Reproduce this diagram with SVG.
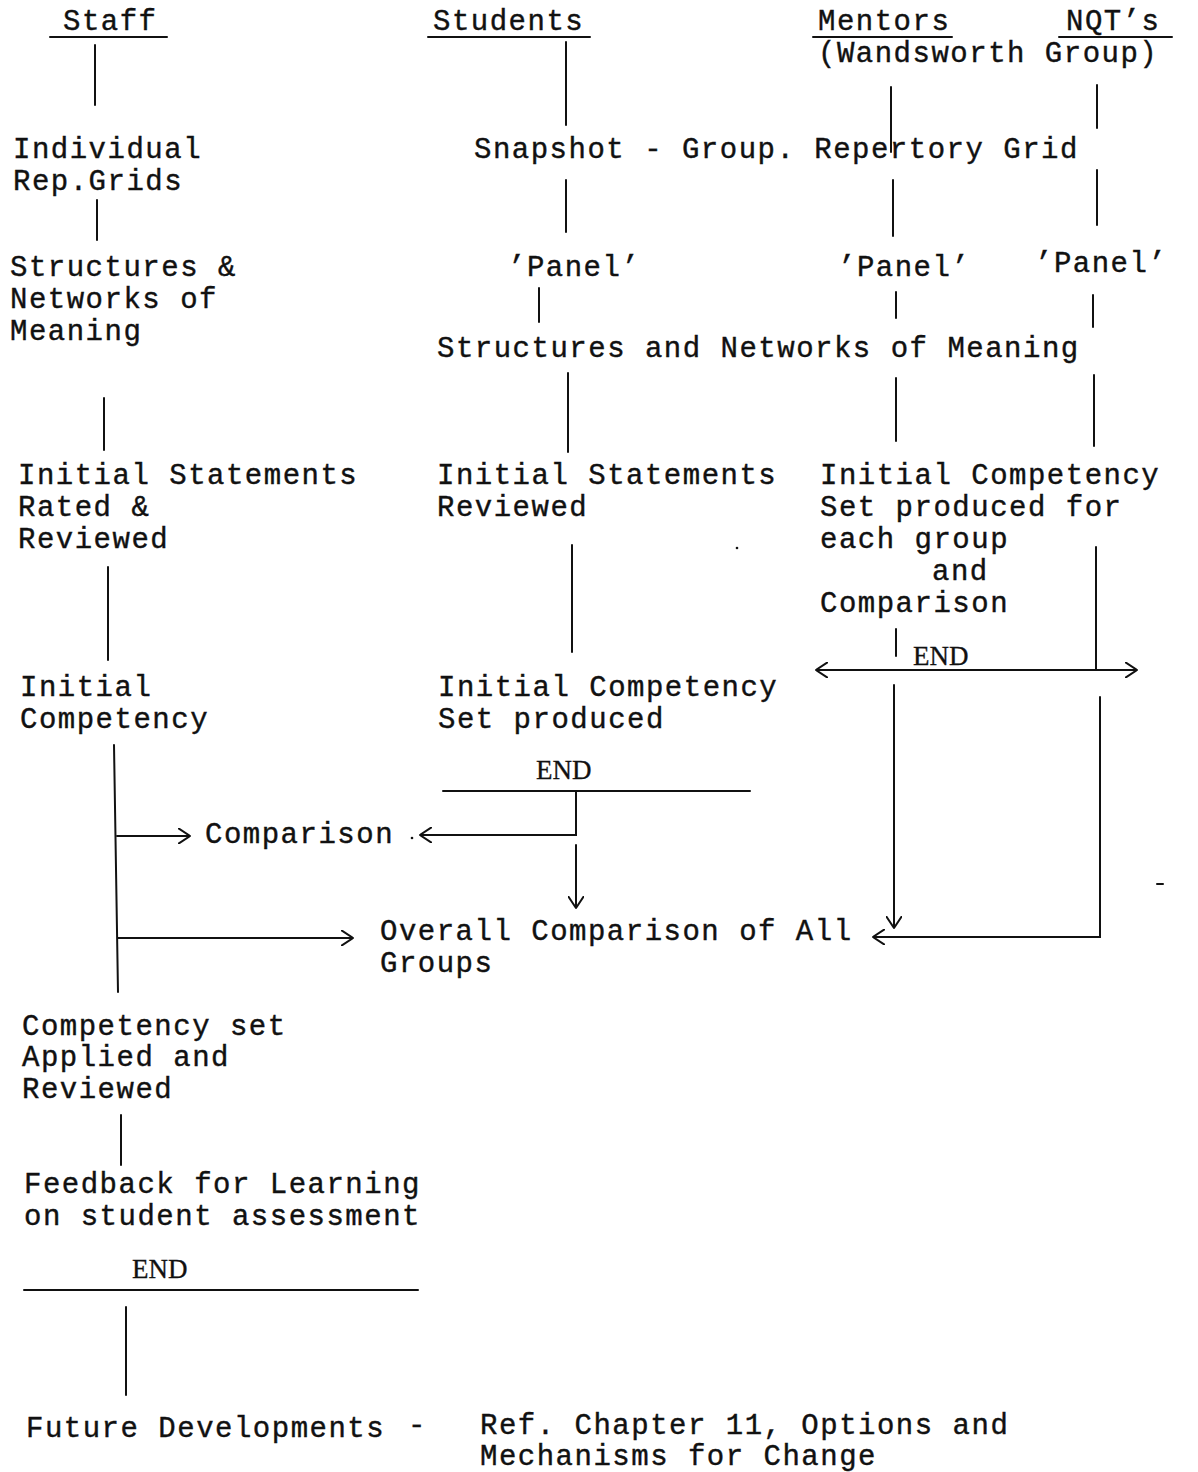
<svg xmlns="http://www.w3.org/2000/svg" width="1198" height="1472" viewBox="0 0 1198 1472">
  <style>
    .t { font-family: "Liberation Mono", "Courier New", monospace; font-size: 29px; letter-spacing: 1.5px; fill: #111; stroke: #111; stroke-width: 0.4px; }
    .end { font-family: "Liberation Serif", "Times New Roman", serif; font-size: 27px; fill: #111; stroke: #111; stroke-width: 0.3px; }
    .ln { stroke: #111; stroke-width: 2; fill: none; stroke-linecap: round; }
  </style>
  <defs>
    <marker id="open" viewBox="0 0 12 16" refX="12" refY="8" markerWidth="12" markerHeight="16" markerUnits="userSpaceOnUse" orient="auto-start-reverse">
      <path d="M0,0 L12,8 L0,16" fill="none" stroke="#111" stroke-width="2"/>
    </marker>
  </defs>
  <rect width="1198" height="1472" fill="#fff"/>

  <!-- column headings -->
  <g id="head-staff">
    <text class="t" x="63" y="30">Staff</text>
    <line class="ln" x1="50" y1="37" x2="167" y2="37"/>
  </g>
  <g id="head-students">
    <text class="t" x="433" y="30">Students</text>
    <line class="ln" x1="428" y1="37" x2="590" y2="37"/>
  </g>
  <g id="head-mentors">
    <text class="t" x="818" y="30">Mentors</text>
    <line class="ln" x1="813" y1="37" x2="952" y2="37"/>
  </g>
  <g id="head-nqts">
    <text class="t" x="1066" y="30">NQT’s</text>
    <line class="ln" x1="1059" y1="37" x2="1172" y2="37"/>
  </g>
  <g id="head-wandsworth">
    <text class="t" x="818" y="62">(Wandsworth Group)</text>
  </g>

  <!-- staff column -->
  <g id="staff-repgrids">
    <text class="t" x="13" y="158">Individual</text>
    <text class="t" x="13" y="190">Rep.Grids</text>
  </g>
  <g id="staff-structures">
    <text class="t" x="10" y="276">Structures &amp;</text>
    <text class="t" x="10" y="308">Networks of</text>
    <text class="t" x="10" y="340">Meaning</text>
  </g>
  <g id="staff-statements">
    <text class="t" x="18" y="484">Initial Statements</text>
    <text class="t" x="18" y="516">Rated &amp;</text>
    <text class="t" x="18" y="548">Reviewed</text>
  </g>
  <g id="staff-competency">
    <text class="t" x="20" y="696">Initial</text>
    <text class="t" x="20" y="728">Competency</text>
  </g>
  <g id="comparison">
    <text class="t" x="205" y="843">Comparison</text>
  </g>
  <g id="overall-comparison">
    <text class="t" x="380" y="940">Overall Comparison of All</text>
    <text class="t" x="380" y="972">Groups</text>
  </g>
  <g id="staff-applied">
    <text class="t" x="22" y="1035">Competency set</text>
    <text class="t" x="22" y="1066">Applied and</text>
    <text class="t" x="22" y="1098">Reviewed</text>
  </g>
  <g id="staff-feedback">
    <text class="t" x="24" y="1193">Feedback for Learning</text>
    <text class="t" x="24" y="1225">on student assessment</text>
  </g>
  <g id="staff-end">
    <text class="end" x="132" y="1278">END</text>
    <line class="ln" x1="24" y1="1290" x2="418" y2="1290"/>
  </g>
  <g id="future">
    <text class="t" x="26" y="1437">Future Developments</text>
    <text class="t" x="408" y="1434">-</text>
    <text class="t" x="480" y="1434">Ref. Chapter 11, Options and</text>
    <text class="t" x="480" y="1465">Mechanisms for Change</text>
  </g>

  <!-- shared / students, mentors, NQT columns -->
  <g id="snapshot">
    <text class="t" x="474" y="158">Snapshot - Group. Repertory Grid</text>
  </g>
  <g id="panel-students">
    <text class="t" x="508" y="276">’Panel’</text>
  </g>
  <g id="panel-mentors">
    <text class="t" x="838" y="276">’Panel’</text>
  </g>
  <g id="panel-nqts">
    <text class="t" x="1035" y="272">’Panel’</text>
  </g>
  <g id="shared-structures">
    <text class="t" x="437" y="357">Structures and Networks of Meaning</text>
  </g>
  <g id="students-statements">
    <text class="t" x="437" y="484">Initial Statements</text>
    <text class="t" x="437" y="516">Reviewed</text>
  </g>
  <g id="mentors-nqts-competency">
    <text class="t" x="820" y="484">Initial Competency</text>
    <text class="t" x="820" y="516">Set produced for</text>
    <text class="t" x="820" y="548">each group</text>
    <text class="t" x="932" y="580">and</text>
    <text class="t" x="820" y="612">Comparison</text>
  </g>
  <g id="mentors-nqts-end">
    <text class="end" x="913" y="665">END</text>
  </g>
  <g id="students-competency">
    <text class="t" x="438" y="696">Initial Competency</text>
    <text class="t" x="438" y="728">Set produced</text>
  </g>
  <g id="students-end">
    <text class="end" x="536" y="779">END</text>
    <line class="ln" x1="443" y1="791" x2="750" y2="791"/>
  </g>

  <!-- connectors -->
  <g id="connectors">
    <path class="ln" d="M95,45 V105"/>
    <path class="ln" d="M566,42 V125"/>
    <path class="ln" d="M891,87 V152"/>
    <path class="ln" d="M1097,85 V128"/>

    <path class="ln" d="M97,200 V240"/>
    <path class="ln" d="M566,180 V232"/>
    <path class="ln" d="M893,180 V236"/>
    <path class="ln" d="M1097,170 V225"/>

    <path class="ln" d="M539,288 V322"/>
    <path class="ln" d="M896,292 V318"/>
    <path class="ln" d="M1093,295 V327"/>

    <path class="ln" d="M104,398 V450"/>
    <path class="ln" d="M568,373 V452"/>
    <path class="ln" d="M896,378 V441"/>
    <path class="ln" d="M1094,375 V446"/>

    <path class="ln" d="M108,567 V660"/>
    <path class="ln" d="M572,545 V652"/>
    <path class="ln" d="M1096,547 V670"/>
    <path class="ln" d="M896,629 V656"/>
    <path class="ln" d="M816,670 H1137" marker-start="url(#open)" marker-end="url(#open)"/>

    <path class="ln" d="M894,685 V928" marker-end="url(#open)"/>
    <path class="ln" d="M1100,697 V937 H873" marker-end="url(#open)"/>

    <path class="ln" d="M114,745 L118,992"/>
    <path class="ln" d="M117,836 H190" marker-end="url(#open)"/>
    <path class="ln" d="M576,791 V835 H420" marker-end="url(#open)"/>
    <path class="ln" d="M576,845 V908" marker-end="url(#open)"/>
    <path class="ln" d="M118,938 H353" marker-end="url(#open)"/>

    <path class="ln" d="M121,1115 V1165"/>
    <path class="ln" d="M126,1307 V1395"/>
  </g>

  <!-- small stray marks -->
  <circle cx="737" cy="548" r="1.3" fill="#111"/>
  <circle cx="412" cy="838" r="1.3" fill="#111"/>
  <line class="ln" x1="1157" y1="884" x2="1163" y2="884"/>
</svg>
